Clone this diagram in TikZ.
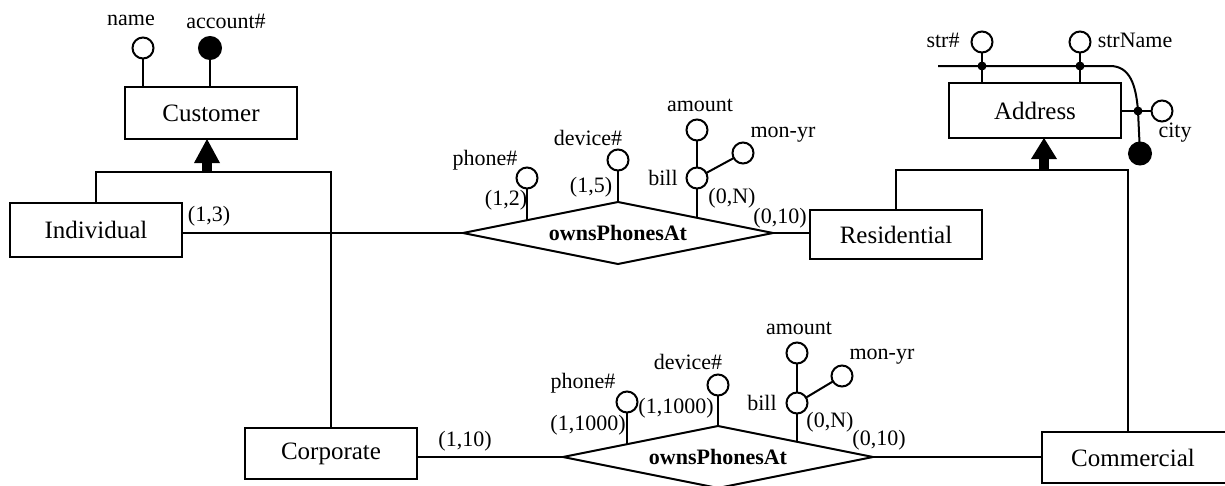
\documentclass[tikz,border=0pt]{standalone}
\usepackage{fontspec}
\setmainfont{Liberation Serif}
\usetikzlibrary{shapes.geometric,calc}
\begin{document}
\begin{tikzpicture}[x=1pt,y=-1pt,line width=2pt,
 ent/.style={draw,rectangle,inner sep=0pt,outer sep=0pt,minimum width=172pt,font=\fontsize{25}{28}\selectfont},
 rel/.style={draw,diamond,aspect=5,inner sep=0pt,outer sep=0pt,minimum width=310pt,minimum height=62pt,font=\fontsize{22}{26}\selectfont\bfseries},
 attr/.style={draw,circle,inner sep=0pt,outer sep=0pt,minimum size=21pt},
 keyattr/.style={attr,fill=black,minimum size=22pt},
 jdot/.style={circle,fill=black,inner sep=0pt,outer sep=0pt,minimum size=9pt},
 lbl/.style={inner sep=0pt,font=\fontsize{22}{26}\selectfont}]
\useasboundingbox (0,0) rectangle (1225,485);

% entities
\node[ent,minimum height=52pt] (Customer) at (211,113) {Customer};
\node[ent,minimum height=54pt] (Individual) at (96,230) {Individual};
\node[ent,minimum height=51pt] (Corporate) at (331,453.5) {Corporate};
\node[ent,minimum height=49pt] (Residential) at (896,234.5) {Residential};
\node[ent,minimum height=55pt] (Address) at (1035,110.5) {Address};
\node[ent,minimum height=51pt,minimum width=210pt] (Commercial) at (1147,457.5) {\hspace*{-28pt}Commercial};

% relationships
\node[rel] (D1) at (618,233) {ownsPhonesAt};
\node[rel] (D2) at (718,457) {ownsPhonesAt};

% relationship connectors
\draw (D1.west -| Individual.east) -- (D1.west);
\draw (D1.east) -- (D1.east -| Residential.west);
\draw (D2.west -| Corporate.east) -- (D2.west);
\draw (D2.east) -- (D2.east -| Commercial.west);

% Customer attributes
\node[attr] (name) at (143,48) {};
\node[keyattr] (acct) at (210,48) {};
\draw (name) -- (name |- Customer.north);
\draw (acct) -- (acct |- Customer.north);
\node[lbl] at (131,20) {name};
\node[lbl] at (226,21) {account\#};

% Customer hierarchy
\coordinate (cj) at (207,172);
\fill (Customer.south -| cj) -- ++(13,24) -- ++(-26,0) -- cycle;
\fill ($(cj)+(-5,-10)$) rectangle ($(cj)+(5,0)$);
\draw (Individual.north) |- (cj) -| (Corporate.north);

% Address hierarchy
\coordinate (aj) at (1044,170);
\coordinate (cmx) at (1128,0);
\fill (Address.south -| aj) -- ++(13,21) -- ++(-26,0) -- cycle;
\fill ($(aj)+(-5,-14)$) rectangle ($(aj)+(5,0)$);
\draw (Residential.north) |- (aj) -| (Commercial.north -| cmx);

% D1 attributes
\coordinate (e1a) at ($(D1.west)!0.413!(D1.north)$);
\coordinate (e1c) at ($(D1.north)!0.51!(D1.east)$);
\node[attr] (ph1) at (527,178) {};
\node[attr] (dv1) at (618,160) {};
\node[attr] (bill1) at (697,178) {};
\node[attr] (amt1) at (697,130) {};
\node[attr] (mon1) at (743,153) {};
\draw (ph1) -- (ph1 |- e1a);
\draw (dv1) -- (D1.north);
\draw (bill1) -- (bill1 |- e1c);
\draw (amt1) -- (bill1);
\draw (bill1) -- (mon1);
\node[lbl] at (485,160) {phone\#};
\node[lbl] at (506,200) {(1,2)};
\node[lbl] at (588,138) {device\#};
\node[lbl] at (591,187) {(1,5)};
\node[lbl] at (700,105) {amount};
\node[lbl] at (783,135) {mon-yr};
\node[lbl] at (663,178) {bill};
\node[lbl] at (732,198) {(0,N)};
\node[lbl] at (780,218) {(0,10)};
\node[lbl] at (209,216) {(1,3)};

% D2 attributes
\coordinate (e2a) at ($(D2.west)!0.413!(D2.north)$);
\coordinate (e2c) at ($(D2.north)!0.51!(D2.east)$);
\node[attr] (ph2) at (627,402) {};
\node[attr] (dv2) at (718,385) {};
\node[attr] (bill2) at (797,403) {};
\node[attr] (amt2) at (797,353) {};
\node[attr] (mon2) at (842,376) {};
\draw (ph2) -- (ph2 |- e2a);
\draw (dv2) -- (D2.north);
\draw (bill2) -- (bill2 |- e2c);
\draw (amt2) -- (bill2);
\draw (bill2) -- (mon2);
\node[lbl] at (583,383) {phone\#};
\node[lbl] at (588,425) {(1,1000)};
\node[lbl] at (676,408) {(1,1000)};
\node[lbl] at (688,362) {device\#};
\node[lbl] at (762,403) {bill};
\node[lbl] at (830,422) {(0,N)};
\node[lbl] at (799,328) {amount};
\node[lbl] at (882,357) {mon-yr};
\node[lbl] at (465,441) {(1,10)};
\node[lbl] at (879,440) {(0,10)};

% Address attributes
\node[attr] (strno) at (982,42) {};
\node[attr] (strnm) at (1080,42) {};
\node[attr] (city) at (1162,111) {};
\node[keyattr] (citykey) at (1140,153.5) {};
\coordinate (kstart) at (938,66);
\draw (strno) -- (strno |- Address.north);
\draw (strnm) -- (strnm |- Address.north);
\draw (Address.east |- city) -- (city);
\draw (kstart) -- (1110,66) .. controls (1130,66) and (1136,85) .. (1138,111) -- (citykey);
\node[jdot] at (strno |- kstart) {};
\node[jdot] at (strnm |- kstart) {};
\node[jdot] at (1138,111) {};
\node[lbl] at (943,40) {str\#};
\node[lbl] at (1135,40) {strName};
\node[lbl] at (1175,133) {city};
\end{tikzpicture}
\end{document}
